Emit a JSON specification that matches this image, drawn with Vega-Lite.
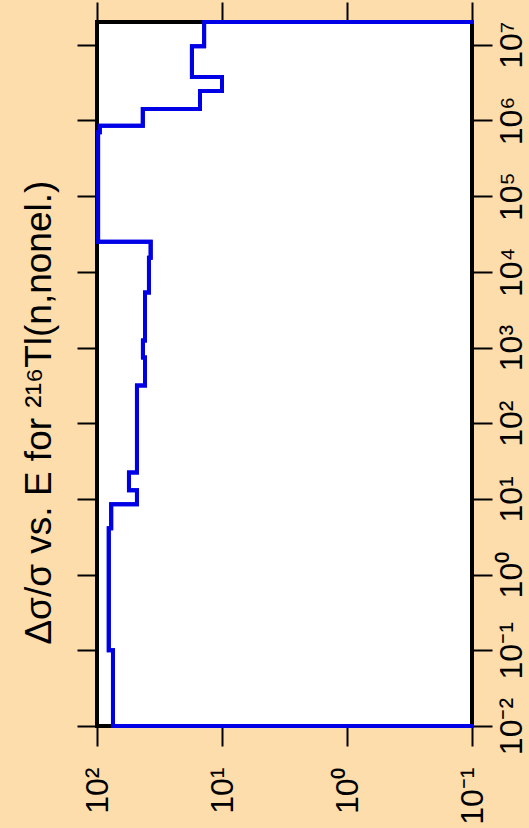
{
  "$schema": "https://vega.github.io/schema/vega-lite/v6.json",
  "width": 375,
  "height": 704,
  "autosize": {"type": "none"},
  "padding": {"left": 97, "top": 22, "right": 57, "bottom": 102},
  "background": "#FCDDAB",
  "config": {
    "view": {"stroke": "black", "strokeWidth": 4, "fill": "white"},
    "axis": {"domain": false, "grid": false, "tickColor": "black", "tickWidth": 2, "tickSize": 20, "labelFont": "Liberation Sans", "labelFontSize": 32, "labelColor": "black", "labelOverlap": false, "labelBound": false, "labelFlush": false, "title": null}
  },
  "title": {
    "text": "Δσ/σ vs. E for ²¹⁶Tl(n,nonel.)",
    "orient": "left",
    "anchor": "middle",
    "frame": "bounds",
    "font": "Liberation Sans",
    "fontSize": 37,
    "fontWeight": "normal",
    "color": "black",
    "offset": 17
  },
  "data": {"values": [
    {"i": 0, "E": 0.01, "r": 0.1},
    {"i": 1, "E": 0.01, "r": 74.5},
    {"i": 2, "E": 0.1, "r": 74.5},
    {"i": 3, "E": 0.1, "r": 80.5},
    {"i": 4, "E": 4.1, "r": 80.5},
    {"i": 5, "E": 4.1, "r": 77},
    {"i": 6, "E": 8.5, "r": 77},
    {"i": 7, "E": 8.5, "r": 47.9},
    {"i": 8, "E": 13, "r": 47.9},
    {"i": 9, "E": 13, "r": 55.5},
    {"i": 10, "E": 22.4, "r": 55.5},
    {"i": 11, "E": 22.4, "r": 47.9},
    {"i": 12, "E": 315, "r": 47.9},
    {"i": 13, "E": 315, "r": 41.3},
    {"i": 14, "E": 738, "r": 41.3},
    {"i": 15, "E": 738, "r": 42.9},
    {"i": 16, "E": 1237, "r": 42.9},
    {"i": 17, "E": 1237, "r": 41.3},
    {"i": 18, "E": 5320, "r": 41.3},
    {"i": 19, "E": 5320, "r": 38.4},
    {"i": 20, "E": 15400, "r": 38.4},
    {"i": 21, "E": 15400, "r": 37.2},
    {"i": 22, "E": 25000, "r": 37.2},
    {"i": 23, "E": 25000, "r": 98},
    {"i": 24, "E": 700000, "r": 98},
    {"i": 25, "E": 700000, "r": 95},
    {"i": 26, "E": 850000, "r": 95},
    {"i": 27, "E": 850000, "r": 43},
    {"i": 28, "E": 1420000, "r": 43},
    {"i": 29, "E": 1420000, "r": 15},
    {"i": 30, "E": 2450000, "r": 15},
    {"i": 31, "E": 2450000, "r": 10},
    {"i": 32, "E": 3760000, "r": 10},
    {"i": 33, "E": 3760000, "r": 17.4},
    {"i": 34, "E": 9600000, "r": 17.4},
    {"i": 35, "E": 9600000, "r": 13.9},
    {"i": 36, "E": 20000000, "r": 13.9},
    {"i": 37, "E": 20000000, "r": 0.1}
  ]},
  "layer": [
    {
      "mark": {"type": "line", "color": "#0000E6", "strokeWidth": 4, "strokeJoin": "miter", "strokeCap": "square"},
      "encoding": {
        "order": {"field": "i", "type": "quantitative"},
        "x": {"field": "r", "type": "quantitative", "scale": {"type": "log", "domain": [0.1, 100], "reverse": true, "nice": false},
              "axis": {"orient": "bottom", "values": [0.1, 1, 10, 100], "labelAngle": 270, "labelAlign": "right", "labelBaseline": "middle", "labelPadding": 21,
                       "labelExpr": "'10' + ['⁻²','⁻¹','⁰','¹','²','³','⁴','⁵','⁶','⁷'][round(log(datum.value)/LN10)+2]"}},
        "y": {"field": "E", "type": "quantitative", "scale": {"type": "log", "domain": [0.01, 20000000], "nice": false},
              "axis": {"orient": "right", "values": [0.01, 0.1, 1, 10, 100, 1000, 10000, 100000, 1000000, 10000000], "labelAngle": 270, "labelAlign": "center", "labelBaseline": "top", "labelPadding": 4,
                       "labelExpr": "'10' + ['⁻²','⁻¹','⁰','¹','²','³','⁴','⁵','⁶','⁷'][round(log(datum.value)/LN10)+2]"}}
      }
    },
    {
      "mark": {"type": "line", "color": "#0000E6", "strokeWidth": 4, "strokeJoin": "miter", "strokeCap": "square"},
      "encoding": {
        "order": {"field": "i", "type": "quantitative"},
        "x": {"field": "r", "type": "quantitative", "scale": {"type": "log", "domain": [0.1, 100], "reverse": true, "nice": false},
              "axis": {"orient": "top", "values": [0.1, 1, 10, 100], "labels": false}},
        "y": {"field": "E", "type": "quantitative", "scale": {"type": "log", "domain": [0.01, 20000000], "nice": false},
              "axis": {"orient": "left", "values": [0.01, 0.1, 1, 10, 100, 1000, 10000, 100000, 1000000, 10000000], "labels": false}}
      }
    }
  ],
  "resolve": {"axis": {"x": "independent", "y": "independent"}}
}
